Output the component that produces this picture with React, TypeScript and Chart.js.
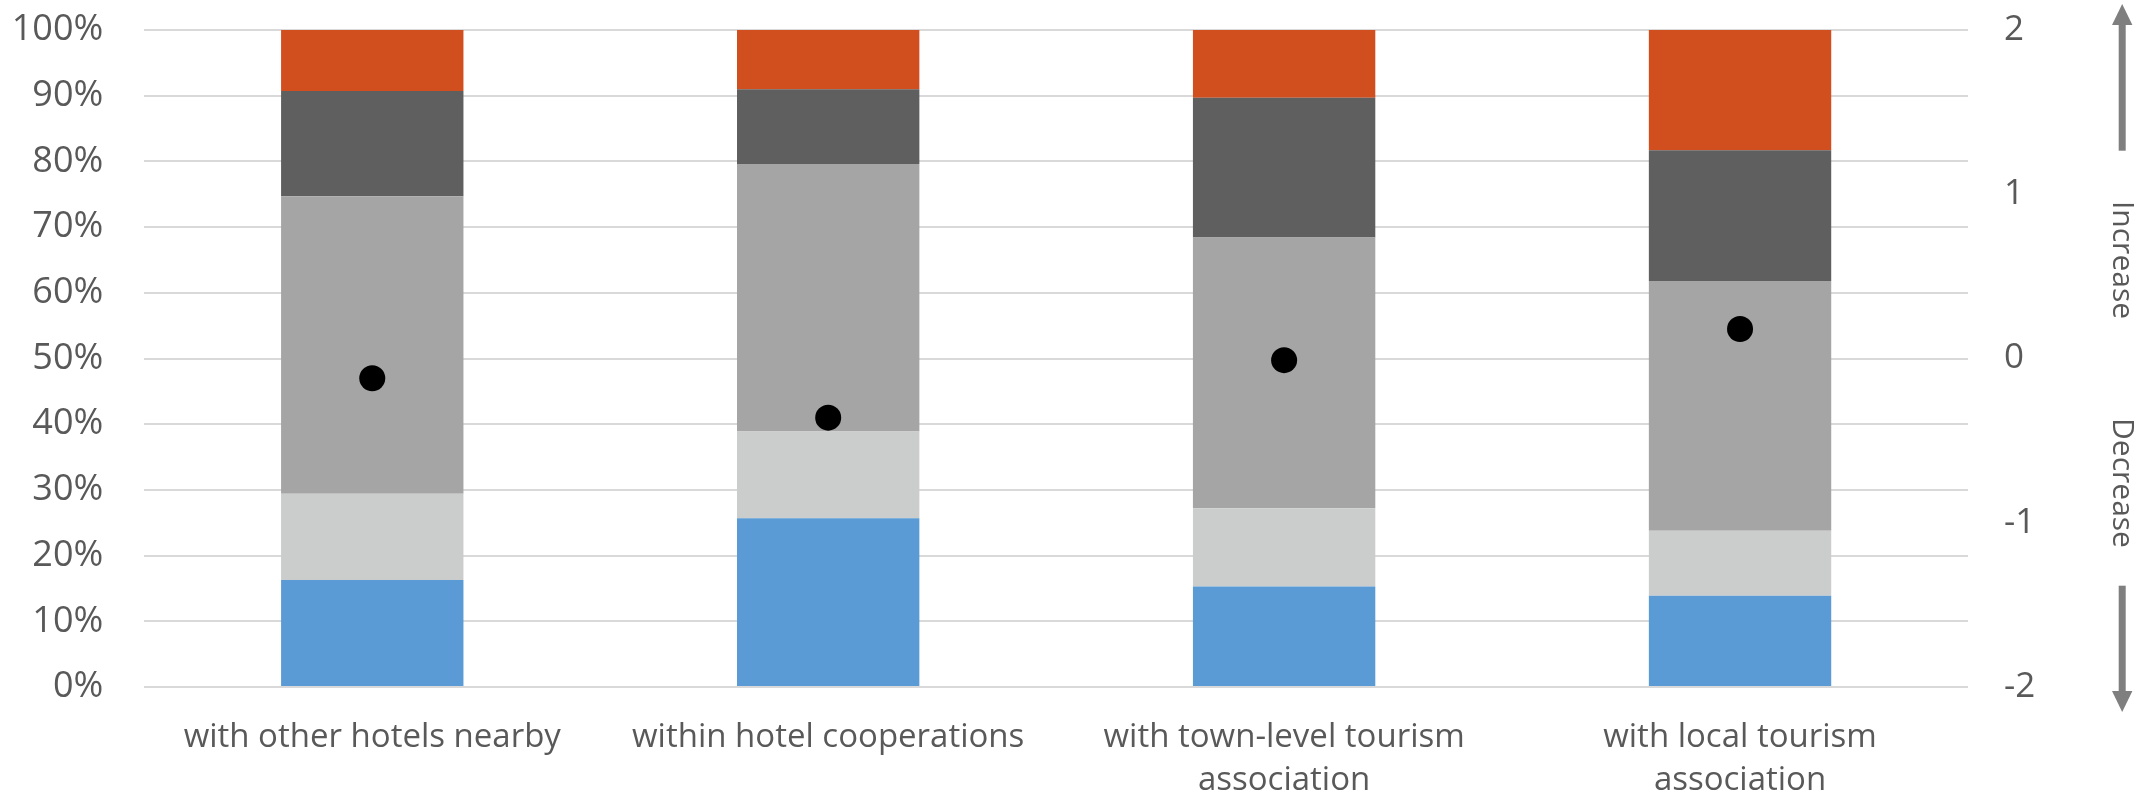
import React, { useEffect, useRef } from "react";
import { Chart, registerables } from "chart.js";

Chart.register(...registerables);

// ---- data ----
const categories: (string | string[])[] = [
  "with other hotels nearby",
  "within hotel cooperations",
  ["with town-level tourism", "association"],
  ["with local tourism", "association"],
];
const strongDecrease = [16.3, 25.7, 15.3, 13.9];
const slightDecrease = [13.1, 13.2, 11.9, 9.9];
const noChange = [45.3, 40.7, 41.2, 38.0];
const slightIncrease = [16.0, 11.4, 21.3, 19.9];
const strongIncrease = [9.3, 9.0, 10.3, 18.3];
const meanChange = [-0.12, -0.36, -0.01, 0.18];

const rightTickValues = [-2, -1, 0, 1, 2];
const sideLabels = ["Increase", "Decrease"];

const TEXT = "#595959";
const FONT = "'Open Sans', sans-serif";
const CLEAR = "rgba(0,0,0,0)";

const sidePlugin = {
  id: "sideArrows",
  afterDraw(chart: any) {
    const ctx = chart.ctx as CanvasRenderingContext2D;
    const y1 = chart.scales.y1;
    const cx = 2122.2;
    ctx.save();
    ctx.fillStyle = "#7f7f7f";
    // up arrow
    const upTip = y1.top - 26;
    ctx.fillRect(cx - 3.5, upTip + 21, 7, 150.7 - (upTip + 21));
    ctx.beginPath();
    ctx.moveTo(cx, upTip);
    ctx.lineTo(cx + 10.2, upTip + 21);
    ctx.lineTo(cx - 10.2, upTip + 21);
    ctx.closePath();
    ctx.fill();
    // down arrow
    const downTip = y1.bottom + 25;
    ctx.fillRect(cx - 3.5, 585.7, 7, downTip - 21 - 585.7);
    ctx.beginPath();
    ctx.moveTo(cx, downTip);
    ctx.lineTo(cx + 10.2, downTip - 21);
    ctx.lineTo(cx - 10.2, downTip - 21);
    ctx.closePath();
    ctx.fill();
    // rotated texts
    ctx.fillStyle = TEXT;
    ctx.font = `30px ${FONT}`;
    ctx.textAlign = "center";
    ctx.textBaseline = "alphabetic";
    const centers = [260, 483];
    sideLabels.forEach((t, i) => {
      ctx.save();
      ctx.translate(2113.3, centers[i]);
      ctx.rotate(Math.PI / 2);
      ctx.fillText(t, 0, 0);
      ctx.restore();
    });
    ctx.restore();
  },
};

export default function App() {
  const ref = useRef<HTMLCanvasElement>(null);
  useEffect(() => {
    if (!ref.current) return;
    const barCommon = { yAxisID: "y", stack: "s", borderWidth: 0, barPercentage: 1, categoryPercentage: 0.4 };
    const chart = new Chart(ref.current, {
      type: "bar",
      data: {
        labels: categories as any,
        datasets: [
          {
            type: "line",
            label: "Mean change",
            data: meanChange,
            yAxisID: "y1",
            showLine: false,
            pointRadius: 13,
            pointHoverRadius: 13,
            pointBackgroundColor: "#000000",
            pointBorderWidth: 0,
            borderColor: "#000000",
            backgroundColor: "#000000",
          } as any,
          { ...barCommon, label: "Strong decrease", data: strongDecrease, backgroundColor: "#5b9bd5" },
          { ...barCommon, label: "Decrease", data: slightDecrease, backgroundColor: "#cbcdcc" },
          { ...barCommon, label: "No change", data: noChange, backgroundColor: "#a5a5a5" },
          { ...barCommon, label: "Increase", data: slightIncrease, backgroundColor: "#5f5f5f" },
          { ...barCommon, label: "Strong increase", data: strongIncrease, backgroundColor: "#d14e1f" },
        ],
      },
      options: {
        responsive: false,
        animation: false,
        devicePixelRatio: 1,
        layout: { padding: { top: 30, left: 0, right: 0, bottom: 0 } },
        plugins: { legend: { display: false }, tooltip: { enabled: false } },
        scales: {
          x: {
            stacked: true,
            grid: { display: false, drawTicks: false },
            border: { display: false },
            ticks: {
              color: TEXT,
              font: { family: FONT, size: 33, lineHeight: 1.3 },
              padding: 29,
              maxRotation: 0,
              minRotation: 0,
              autoSkip: false,
            },
            afterFit: (s: any) => {
              s.height = 109;
            },
          },
          y: {
            stacked: true,
            position: "left",
            min: 0,
            max: 100,
            grid: { color: "#d9d9d9", lineWidth: 2, drawTicks: true, tickLength: 41, tickColor: CLEAR },
            border: { display: false },
            ticks: {
              stepSize: 10,
              color: TEXT,
              font: { family: FONT, size: 36 },
              padding: 0,
              callback: (v: any) => `${v}%`,
            },
            afterFit: (s: any) => {
              s.width = 144.3;
            },
          },
          y1: {
            position: "right",
            min: -2,
            max: 2,
            grid: { display: true, drawOnChartArea: false, drawTicks: true, tickLength: 36, tickColor: CLEAR, color: CLEAR },
            border: { display: false },
            afterBuildTicks: (s: any) => {
              s.ticks = rightTickValues.map((v) => ({ value: v }));
            },
            ticks: {
              color: TEXT,
              font: { family: FONT, size: 35 },
              padding: 0,
            },
            afterFit: (s: any) => {
              s.width = 181;
            },
          },
        },
      },
      plugins: [sidePlugin],
    });
    return () => chart.destroy();
  }, []);
  return (
    <div style={{ position: "absolute", left: 0, top: 0, width: 2149, height: 796, background: "#fff" }}>
      <canvas ref={ref} width={2149} height={796} style={{ display: "block" }} />
    </div>
  );
}
